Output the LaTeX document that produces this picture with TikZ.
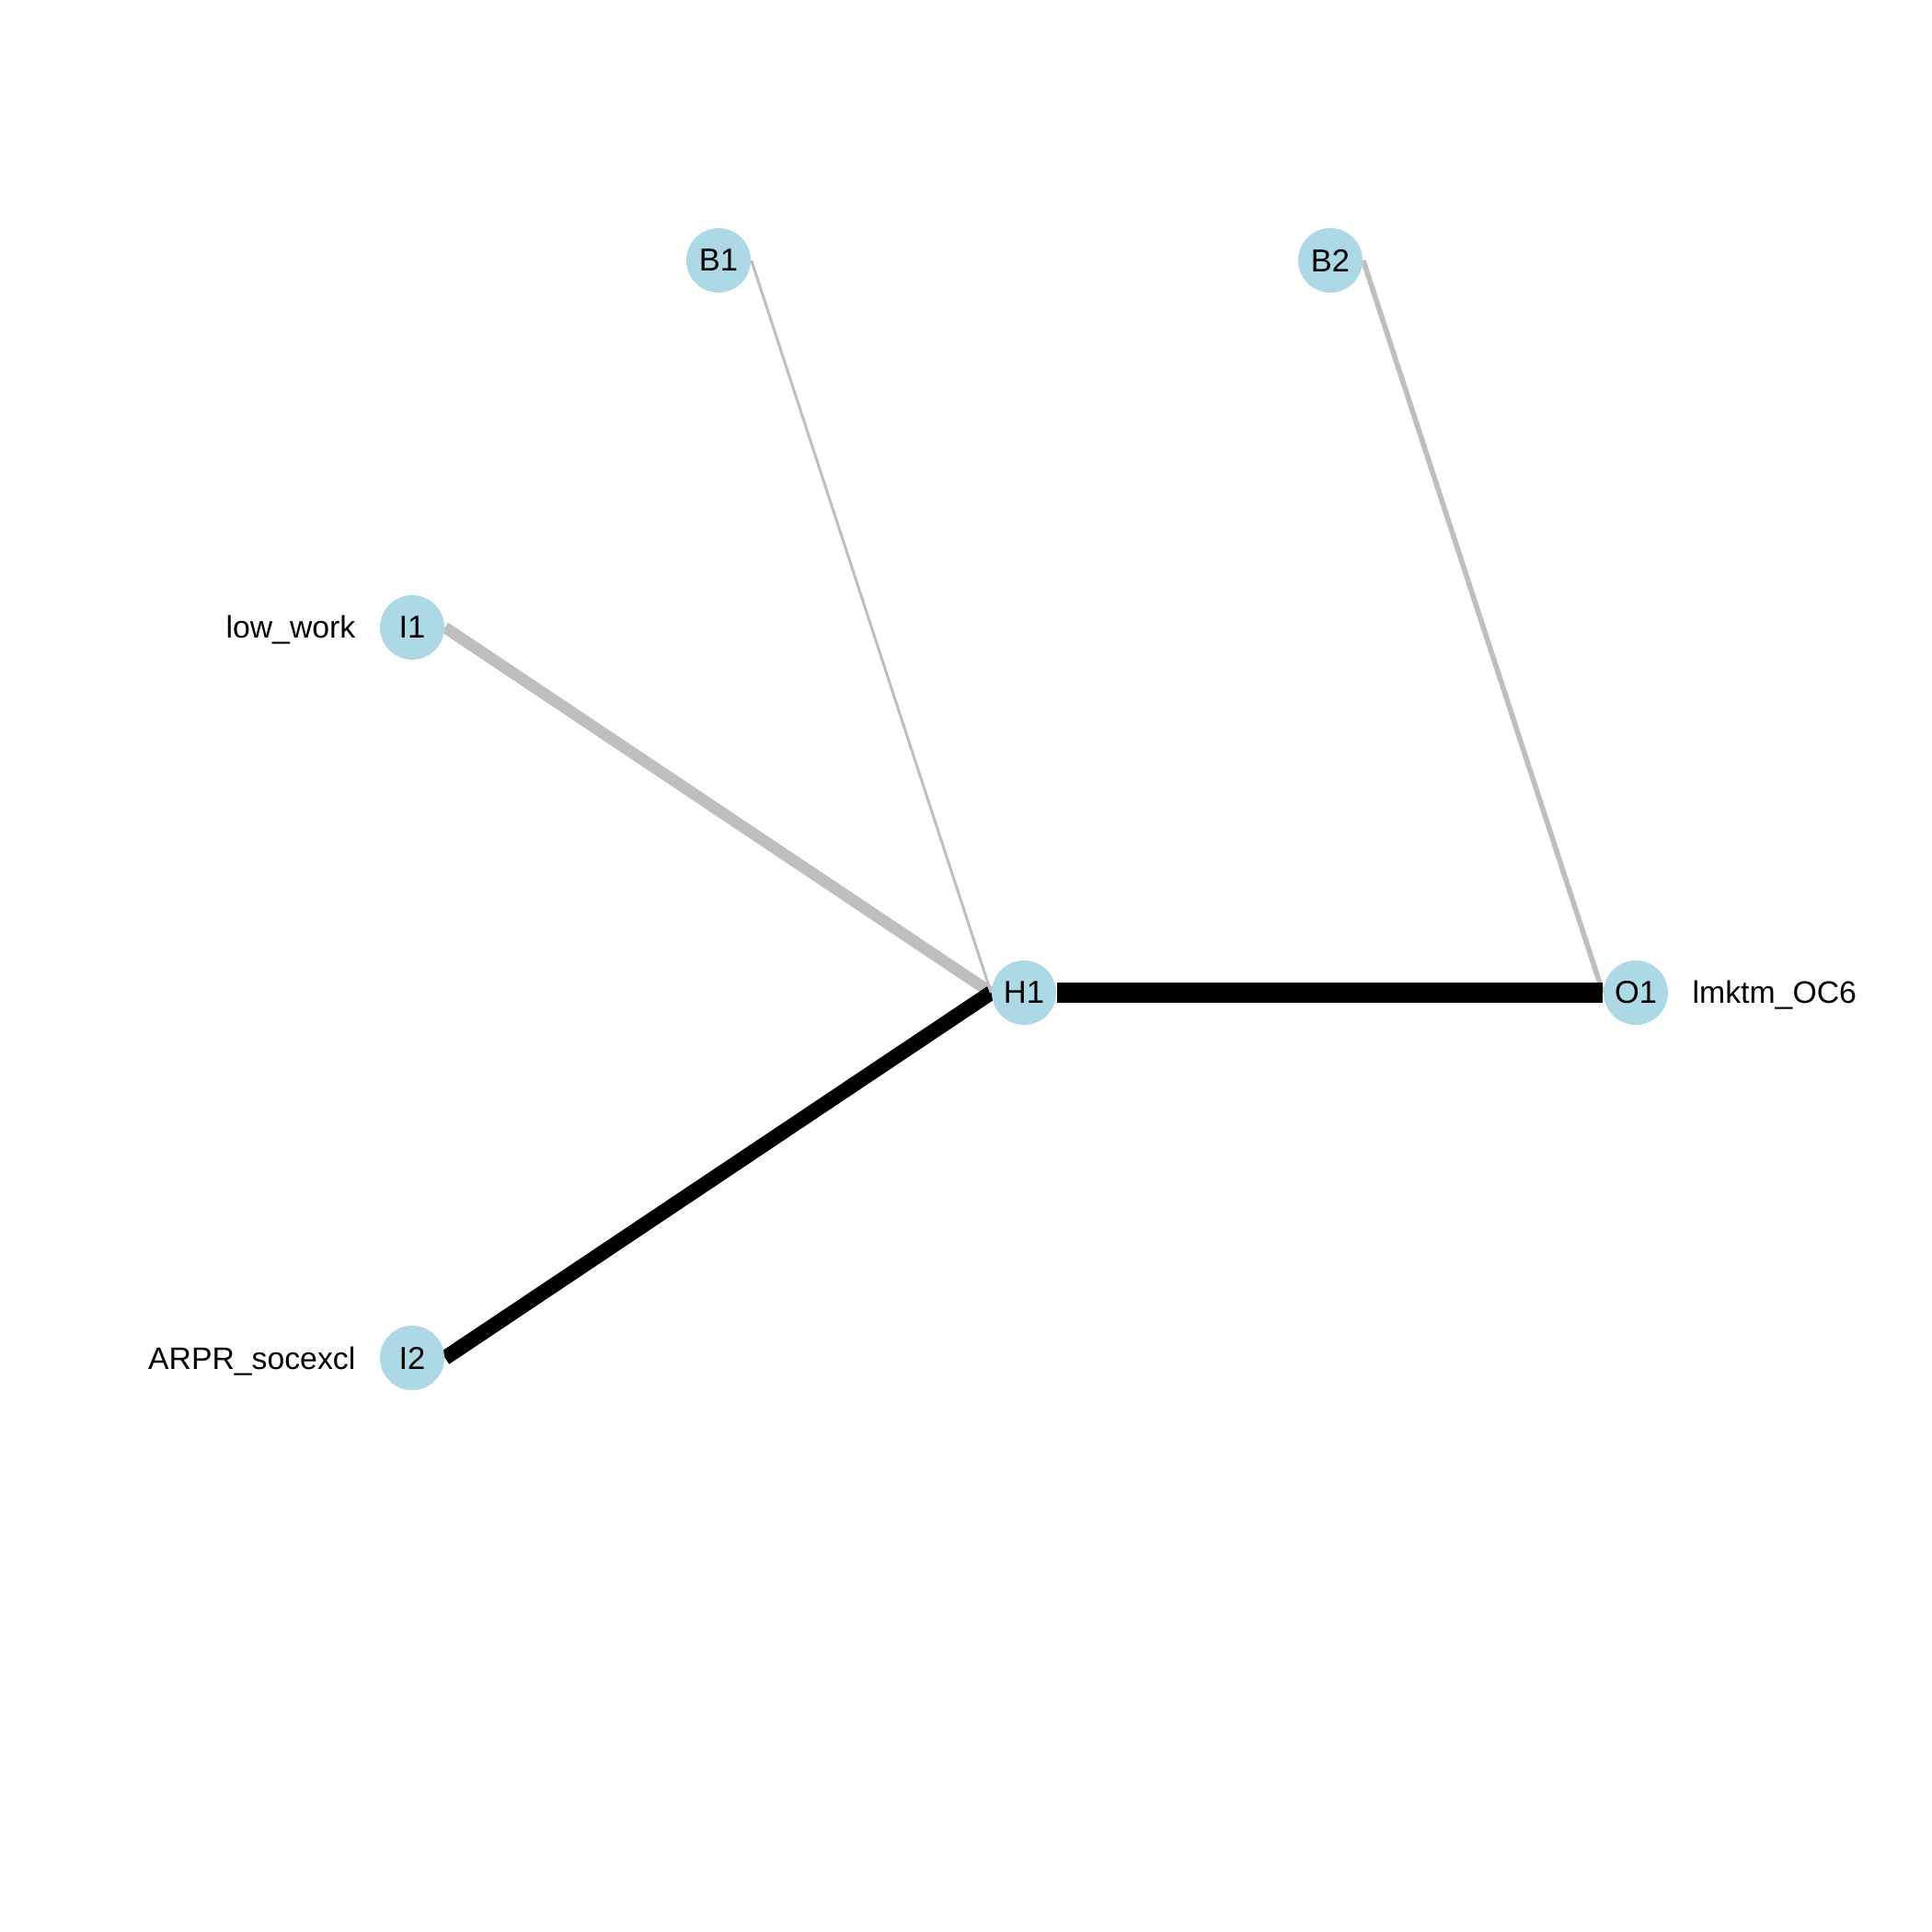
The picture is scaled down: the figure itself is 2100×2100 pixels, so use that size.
\documentclass[tikz,border=0pt]{standalone}
\usepackage{fontspec}
\setmainfont{Liberation Sans}
\usetikzlibrary{backgrounds}
\definecolor{nodeblue}{HTML}{ADD8E6}
\definecolor{edgegray}{HTML}{BEBEBE}
\tikzset{
  neuron/.style={circle,fill=nodeblue,draw=none,minimum size=0.7cm,inner sep=0pt,font=\fontsize{9.8}{11}\selectfont},
  varlabel/.style={inner sep=0pt,font=\fontsize{9.6}{11}\selectfont},
  edgebase/.style={line cap=butt},
}
\begin{document}
\begin{tikzpicture}[x=0.01cm,y=-0.01cm]
\useasboundingbox (0,0) rectangle (2100,2100);
\node[neuron] (B1) at (781,283) {B1};
\node[neuron] (B2) at (1446,283) {B2};
\node[neuron] (I1) at (448,682) {I1};
\node[neuron] (I2) at (448,1476) {I2};
\node[neuron] (H1) at (1113,1079) {H1};
\node[neuron] (O1) at (1778,1079) {O1};
\node[varlabel,anchor=base east] (L1) at (387,693) {low\_work};
\node[varlabel,anchor=base east] (L2) at (387,1488) {ARPR\_socexcl};
\node[varlabel,anchor=base west] (L3) at (1839,1090) {lmktm\_OC6};
\begin{pgfonlayer}{background}
\draw[edgebase,edgegray,line width=3.6pt] (I1.east) -- (H1.west);
\draw[edgebase,black,line width=4.6pt] (I2.east) -- (H1.west);
\draw[edgebase,edgegray,line width=0.85pt] (B1.east) -- (H1.west);
\draw[edgebase,edgegray,line width=1.6pt] (B2.east) -- (O1.west);
\draw[edgebase,black,line width=6pt] (H1.east) -- (O1.west);
\end{pgfonlayer}
\end{tikzpicture}
\end{document}
